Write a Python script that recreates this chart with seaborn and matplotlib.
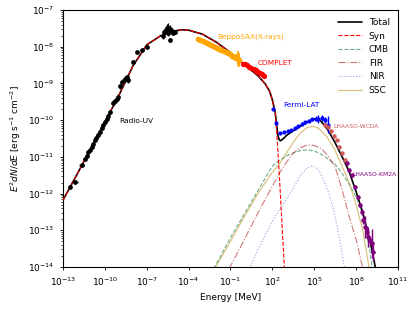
import matplotlib
matplotlib.use("Agg")
import matplotlib.pyplot as plt
import matplotlib.ticker as mticker
import numpy as np
import seaborn as sns

# model curves as log10(E / MeV), log10(E^2 dN/dE)
total_logE = [-13.0, -12.0, -11.0, -10.0, -9.0, -8.0, -7.0, -6.0, -5.0, -4.5, -4.0, -3.0,
              -2.0, -1.0, 0.0, 1.0, 1.5, 1.8, 2.0, 2.2, 2.3, 2.4, 2.5, 2.6, 2.8, 3.0,
              3.5, 4.0, 4.5, 5.0, 5.3, 5.6, 6.0, 6.5, 7.0, 7.5, 8.0, 8.5, 9.0, 9.3, 9.5]
total_logF = [-12.18, -11.48, -10.77, -10.05, -9.33, -8.53, -7.95, -7.70, -7.57, -7.54, -7.55, -7.66,
              -7.88, -8.16, -8.49, -8.80, -9.02, -9.21, -9.45, -9.78, -10.10, -10.42, -10.54, -10.56, -10.50, -10.42,
              -10.29, -10.17, -10.05, -9.97, -9.96, -10.08, -10.28, -10.62, -11.00, -11.40, -11.95, -12.55, -13.30, -13.85, -14.30]

syn_logE = [-13.0, -12.0, -11.0, -10.0, -9.0, -8.0, -7.0, -6.0, -5.0, -4.5, -4.0, -3.0,
            -2.0, -1.0, 0.0, 1.0, 1.5, 1.8, 2.0, 2.2, 2.3, 2.4, 2.5, 2.6, 2.7, 2.8, 2.9]
syn_logF = [-12.18, -11.48, -10.77, -10.05, -9.33, -8.53, -7.95, -7.70, -7.57, -7.54, -7.55, -7.66,
            -7.88, -8.16, -8.49, -8.80, -9.02, -9.21, -9.45, -9.78, -10.25, -10.85, -11.50, -12.20, -12.90, -13.60, -14.30]

cmb_logE = [-2.2, -1.0, 0.0, 1.0, 2.0, 2.5, 3.0, 3.5, 4.0, 4.5, 5.0, 5.5, 6.0, 6.5, 7.0, 7.5, 8.0, 8.5, 9.0, 9.2]
cmb_logF = [-14.05, -13.20, -12.55, -11.90, -11.25, -11.10, -10.98, -10.89, -10.83, -10.81, -10.84, -10.93,
            -11.06, -11.20, -11.45, -11.75, -12.08, -12.60, -13.60, -14.20]

fir_logE = [-1.1, 0.0, 1.0, 2.0, 2.5, 3.0, 3.5, 4.0, 4.5, 5.0, 5.5, 6.0, 6.5, 7.0, 7.5, 8.0, 8.4, 8.5]
fir_logF = [-14.05, -13.25, -12.50, -11.80, -11.45, -11.15, -10.90, -10.75, -10.68, -10.69, -10.77, -10.98,
            -11.28, -11.90, -12.62, -13.25, -13.90, -14.10]

nir_logE = [0.35, 1.0, 2.0, 2.5, 3.0, 3.5, 4.0, 4.5, 4.9, 5.3, 5.7, 6.0, 6.4, 6.8, 7.2]
nir_logF = [-14.05, -13.50, -12.75, -12.45, -12.15, -11.85, -11.52, -11.30, -11.24, -11.35, -11.65, -11.95,
            -12.45, -13.20, -14.10]

ssc_logE = [-2.15, -1.0, 0.0, 1.0, 2.0, 2.5, 3.0, 3.5, 4.0, 4.5, 4.9, 5.3, 5.9, 6.4, 6.9, 7.5, 8.0, 8.5, 8.9, 9.05]
ssc_logF = [-14.05, -13.30, -12.62, -11.98, -11.42, -11.20, -10.90, -10.60, -10.35, -10.20, -10.17, -10.22,
            -10.45, -10.75, -11.17, -11.70, -12.30, -13.05, -13.95, -14.25]

# measurements: log10 E, log10 flux, error in dex
radio_logE = [-12.48, -12.14, -11.66, -11.42, -11.30, -11.19, -11.05, -10.94, -10.85, -10.71, -10.60,
              -10.47, -10.35, -10.23, -10.10, -10.00, -9.88, -9.76, -9.60, -9.40, -9.28, -9.16, -9.04,
              -8.92, -8.80, -8.56, -8.44, -8.32, -7.96, -7.72, -7.36, -7.00,
              -5.84, -5.75, -5.65, -5.55, -5.50, -5.45, -5.40, -5.35, -5.33, -5.20, -5.10, -5.00]
radio_logF = [-11.81, -11.68, -11.22, -11.05, -10.97, -10.88, -10.80, -10.72, -10.66, -10.55, -10.48,
              -10.40, -10.31, -10.22, -10.12, -10.05, -9.98, -9.90, -9.78, -9.52, -9.47, -9.43, -9.36,
              -9.08, -8.95, -8.88, -8.82, -8.92, -8.41, -8.14, -8.09, -8.00,
              -7.72, -7.60, -7.55, -7.50, -7.62, -7.48, -7.58, -7.52, -7.82, -7.58, -7.62, -7.60]
radio_err = [0.05, 0.04, 0.05, 0.04, 0.04, 0.04, 0.04, 0.04, 0.04, 0.04, 0.04,
             0.04, 0.04, 0.04, 0.04, 0.04, 0.04, 0.04, 0.04, 0.06, 0.05, 0.05, 0.08,
             0.06, 0.06, 0.08, 0.05, 0.06, 0.05, 0.04, 0.04, 0.04,
             0.06, 0.08, 0.10, 0.12, 0.10, 0.12, 0.10, 0.10, 0.06, 0.08, 0.06, 0.05]
radio_xerr = [0.05, 0.22, 0.20, 0.05, 0.05, 0.05, 0.05, 0.05, 0.05, 0.05, 0.05,
              0.05, 0.05, 0.05, 0.05, 0.05, 0.05, 0.05, 0.05, 0.10, 0.05, 0.05, 0.05,
              0.05, 0.10, 0.10, 0.05, 0.05, 0.08, 0.05, 0.05, 0.05,
              0.10, 0.10, 0.10, 0.10, 0.10, 0.10, 0.10, 0.10, 0.05, 0.10, 0.10, 0.10]

sax_logE = [-3.30, -3.15, -3.00, -2.85, -2.70, -2.55, -2.40, -2.25, -2.10, -1.95, -1.80,
            -1.65, -1.50, -1.35, -1.20, -1.05, -0.90, -0.75, -0.60, -0.48, -0.38]
sax_logF = [-7.80, -7.82, -7.85, -7.88, -7.90, -7.93, -7.96, -7.98, -8.01, -8.03, -8.06,
            -8.09, -8.12, -8.15, -8.18, -8.21, -8.24, -8.27, -8.30, -8.33, -8.36]
sax_err = [0.05, 0.05, 0.05, 0.05, 0.05, 0.05, 0.05, 0.05, 0.05, 0.05, 0.05,
           0.05, 0.05, 0.05, 0.05, 0.06, 0.06, 0.07, 0.10, 0.20, 0.18]

complet_logE = [-0.10, 0.05, 0.20, 0.35, 0.50, 0.65, 0.80, 0.95, 1.10, 1.25, 1.38]
complet_logF = [-8.46, -8.48, -8.51, -8.54, -8.57, -8.60, -8.64, -8.68, -8.72, -8.75, -8.79]
complet_err = [0.05, 0.04, 0.04, 0.04, 0.04, 0.04, 0.04, 0.04, 0.04, 0.04, 0.05]

fermi_logE = [2.06, 2.26, 2.54, 2.85, 3.10, 3.35, 3.60, 3.85, 4.10, 4.35, 4.60, 4.85, 5.10, 5.30, 5.55, 5.80, 6.00]
fermi_logF = [-9.70, -10.08, -10.36, -10.33, -10.30, -10.26, -10.22, -10.16, -10.10, -10.06, -10.02, -9.98,
              -9.96, -9.97, -9.95, -10.00, -10.12]
fermi_err = [0.03, 0.03, 0.03, 0.03, 0.03, 0.03, 0.03, 0.03, 0.04, 0.04, 0.04, 0.05, 0.06, 0.12, 0.08, 0.08, 0.22]

wcda_logE = [5.80, 6.00, 6.20, 6.40, 6.60, 6.80, 7.00, 7.20]
wcda_logF = [-10.12, -10.20, -10.30, -10.42, -10.55, -10.72, -10.90, -11.08]
wcda_err = [0.03, 0.03, 0.03, 0.03, 0.03, 0.04, 0.04, 0.05]

km2a_logE = [7.32, 7.50, 7.68, 7.92, 8.16, 8.28, 8.40, 8.52, 8.63, 8.75, 8.87, 8.99, 9.11, 9.23]
km2a_logF = [-11.18, -11.35, -11.50, -11.81, -12.09, -12.31, -12.50, -12.72, -12.90, -13.04, -13.18, -13.27, -13.36, -13.59]
km2a_err = [0.03, 0.03, 0.04, 0.04, 0.05, 0.06, 0.08, 0.10, 0.30, 0.15, 0.28, 0.12, 0.40, 0.25]

x_ticks = [1e-13, 1e-10, 1e-7, 1e-4, 1e-1, 1e2, 1e5, 1e8, 1e11]

sns.set_theme(style="ticks", rc={
    "font.size": 6.5,
    "axes.labelsize": 6.5,
    "xtick.labelsize": 6.5,
    "ytick.labelsize": 6.5,
    "legend.fontsize": 6.5,
    "xtick.major.size": 2.5,
    "ytick.major.size": 2.5,
    "ytick.minor.size": 1.5,
    "xtick.major.width": 0.6,
    "ytick.major.width": 0.6,
    "ytick.minor.width": 0.5,
    "axes.linewidth": 0.8,
    "axes.edgecolor": "black",
    "text.color": "black",
    "axes.labelcolor": "black",
    "xtick.color": "black",
    "ytick.color": "black",
})


def lin(values):
    return np.power(10.0, np.asarray(values, dtype=float))


def plot_data(ax, logE, logF, err, color, xerr=None, ms=2.2, elw=1.0):
    E = lin(logE)
    F = lin(logF)
    d = np.asarray(err)
    yerr = [F - F * 10.0 ** (-d), F * 10.0 ** d - F]
    if xerr is not None:
        dx = np.asarray(xerr)
        xe = [E - E * 10.0 ** (-dx), E * 10.0 ** dx - E]
    else:
        xe = None
    ax.errorbar(E, F, yerr=yerr, xerr=xe, fmt="o", ms=ms, color=color,
                ecolor=color, elinewidth=elw, capsize=0, zorder=4)


fig = plt.figure(figsize=(4.15, 3.11), dpi=100)
ax = fig.add_axes([0.1518, 0.1415, 0.8072, 0.8264])
ax.set_xscale("log")
ax.set_yscale("log")

sns.lineplot(x=lin(total_logE), y=lin(total_logF), ax=ax, color="black", lw=1.2, label="Total", zorder=3)
sns.lineplot(x=lin(syn_logE), y=lin(syn_logF), ax=ax, color="red", lw=0.8, linestyle="--", label="Syn", zorder=3)
sns.lineplot(x=lin(cmb_logE), y=lin(cmb_logF), ax=ax, color="seagreen", alpha=0.7, lw=0.8,
             linestyle="--", label="CMB")
sns.lineplot(x=lin(fir_logE), y=lin(fir_logF), ax=ax, color="firebrick", alpha=0.6, lw=0.8,
             linestyle="-.", label="FIR")
sns.lineplot(x=lin(nir_logE), y=lin(nir_logF), ax=ax, color="slateblue", alpha=0.6, lw=0.8,
             linestyle=":", label="NIR")
sns.lineplot(x=lin(ssc_logE), y=lin(ssc_logF), ax=ax, color="darkgoldenrod", alpha=0.5, lw=0.9,
             label="SSC")

plot_data(ax, radio_logE, radio_logF, radio_err, "black", xerr=radio_xerr, ms=2.4)
plot_data(ax, sax_logE, sax_logF, sax_err, "orange", ms=3.0, elw=1.3)
plot_data(ax, complet_logE, complet_logF, complet_err, "red", ms=2.8, elw=1.2)
plot_data(ax, fermi_logE, fermi_logF, fermi_err, "blue", ms=2.0)
plot_data(ax, wcda_logE, wcda_logF, wcda_err, "indianred", ms=2.2)
plot_data(ax, km2a_logE, km2a_logF, km2a_err, "purple", ms=2.2)

ax.text(10 ** -8.99, 10 ** -10.02, "Radio-UV", color="black", fontsize=5.3, va="center")
ax.text(10 ** -1.97, 10 ** -7.74, "BeppoSAX(X-rays)", color="orange", fontsize=5.3, va="center")
ax.text(10 ** 0.97, 10 ** -8.44, "COMPLET", color="red", fontsize=5.3, va="center")
ax.text(10 ** 2.76, 10 ** -9.59, "Fermi-LAT", color="blue", fontsize=5.3, va="center")
ax.text(10 ** 6.34, 10 ** -10.16, "LHAASO-WCDA", color="indianred", fontsize=4.3, va="center")
ax.text(10 ** 7.70, 10 ** -11.47, "LHAASO-KM2A", color="purple", fontsize=4.3, va="center")

ax.set_xlim(1e-13, 1e11)
ax.set_ylim(1e-14, 1e-7)
ax.xaxis.set_major_locator(mticker.FixedLocator(x_ticks))
ax.xaxis.set_major_formatter(mticker.LogFormatterSciNotation())
ax.xaxis.set_minor_locator(mticker.NullLocator())
ax.yaxis.set_major_locator(mticker.LogLocator(base=10.0, numticks=20))
ax.yaxis.set_minor_locator(mticker.LogLocator(base=10.0, subs=np.arange(2, 10), numticks=20))
ax.yaxis.set_minor_formatter(mticker.NullFormatter())

ax.set_xlabel("Energy [MeV]")
ax.set_ylabel(r"$E^2 dN/dE$ [erg s$^{-1}$ cm$^{-2}$]")
ax.legend(loc="upper right", frameon=False, handlelength=2.6)

fig.savefig("out.png", dpi=100)
plt.close(fig)
